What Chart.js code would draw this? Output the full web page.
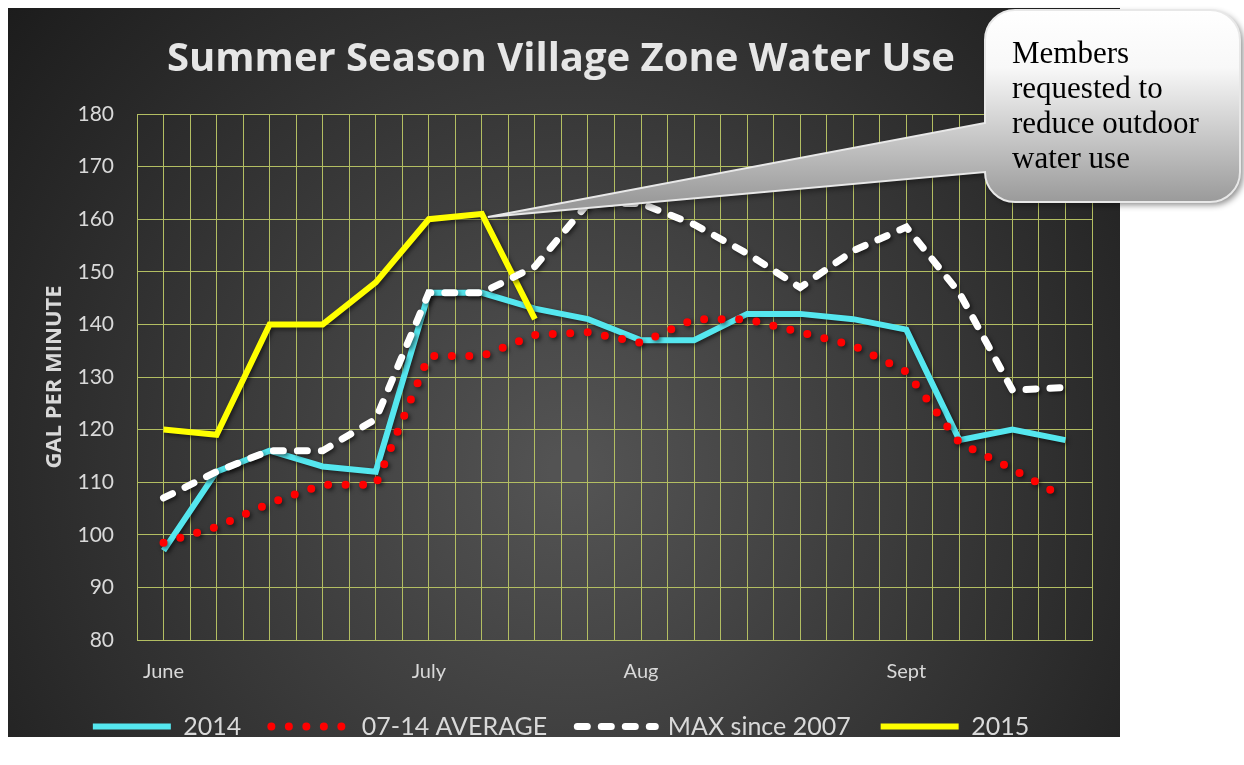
<!DOCTYPE html>
<html>
<head>
<meta charset="utf-8">
<script src="https://cdn.jsdelivr.net/npm/chart.js@4.4.1/dist/chart.umd.min.js"></script>
<style>
  html, body { margin: 0; padding: 0; background: #ffffff; }
</style>
</head>
<body>
<canvas id="waterChart" width="1244" height="765"></canvas>
<script>
// weekly readings, June through September
const weekLabels = ['June', '', '', '', '', 'July', '', '', '', 'Aug', '', '', '', '', 'Sept', '', '', ''];
const use2014 = [97, 112, 116, 113, 112, 146, 146, 143, 141, 137, 137, 142, 142, 141, 139, 118, 120, 118];
const avg0714 = [98.5, 101.5, 106, 109.5, 109.5, 134, 134, 138, 138.5, 136.5, 141, 141, 138.5, 136, 131, 117.5, 112.5, 107];
const max2007 = [107, 112, 116, 116, 122, 146, 146, 151, 163, 163, 159, 153.5, 147, 154, 158.5, 146, 127.5, 128];
const use2015 = [120, 119, 140, 140, 148, 160, 161, 141];
const yTicks = { min: 80, max: 180, step: 10 };
const calloutLines = ['Members', 'requested to', 'reduce outdoor', 'water use'];

const gridColor = '#b3be62';
const textColor = '#d9d9d9';

function toPoints(arr) {
    return arr.map((v, i) => ({ x: i, y: v }));
}

// dark panel behind the whole chart
const panelPlugin = {
    id: 'panel',
    beforeDraw(chart) {
        const ctx = chart.ctx;
        const g = ctx.createRadialGradient(570, 470, 20, 570, 470, 730);
        g.addColorStop(0, '#535353');
        g.addColorStop(1, '#1c1c1c');
        ctx.save();
        ctx.fillStyle = g;
        ctx.fillRect(8, 8, 1112, 729);
        ctx.restore();
    }
};

// soft shadow under the series lines
const lineShadow = {
    id: 'lineShadow',
    beforeDatasetsDraw(chart) {
        const ctx = chart.ctx;
        ctx.save();
        ctx.shadowColor = 'rgba(0,0,0,0.55)';
        ctx.shadowBlur = 4;
        ctx.shadowOffsetX = 2;
        ctx.shadowOffsetY = 2;
    },
    afterDatasetsDraw(chart) {
        chart.ctx.restore();
    }
};

// speech bubble pointing at the 2015 peak
const calloutPlugin = {
    id: 'callout',
    afterDraw(chart) {
        const { ctx, scales } = chart;
        const tipX = scales.x.getPixelForValue(6) + 6;
        const tipY = scales.y.getPixelForValue(use2015[6]) + 3;
        const L = 985, T = 10, R = 1240, B = 202, r = 30;
        ctx.save();
        ctx.beginPath();
        ctx.moveTo(L + r, T);
        ctx.lineTo(R - r, T);
        ctx.arcTo(R, T, R, T + r, r);
        ctx.lineTo(R, B - r);
        ctx.arcTo(R, B, R - r, B, r);
        ctx.lineTo(L + r, B);
        ctx.arcTo(L, B, L, B - r, r);
        ctx.lineTo(L, 172);
        ctx.lineTo(tipX, tipY);
        ctx.lineTo(L, 123);
        ctx.lineTo(L, T + r);
        ctx.arcTo(L, T, L + r, T, r);
        ctx.closePath();
        const g = ctx.createLinearGradient(0, T, 0, B);
        g.addColorStop(0, '#ffffff');
        g.addColorStop(0.3, '#f8f8f8');
        g.addColorStop(1, '#9a9a9a');
        ctx.shadowColor = 'rgba(0,0,0,0.45)';
        ctx.shadowBlur = 6;
        ctx.shadowOffsetX = 3;
        ctx.shadowOffsetY = 3;
        ctx.fillStyle = g;
        ctx.fill();
        ctx.shadowColor = 'transparent';
        ctx.strokeStyle = '#e8e8e8';
        ctx.lineWidth = 2;
        ctx.stroke();

        ctx.fillStyle = '#000000';
        ctx.font = '31px "Liberation Serif", "Times New Roman", serif';
        ctx.textBaseline = 'alphabetic';
        ctx.textAlign = 'left';
        calloutLines.forEach((t, i) => ctx.fillText(t, 1012, 63 + i * 35));
        ctx.restore();
    }
};

const data = {
    datasets: [
        {
            label: '2014',
            data: toPoints(use2014),
            borderColor: '#55e7ef',
            backgroundColor: '#55e7ef',
            borderWidth: 6,
            pointRadius: 0,
            order: 4
        },
        {
            label: '07-14 AVERAGE',
            data: toPoints(avg0714),
            borderColor: '#ff0000',
            backgroundColor: '#ff0000',
            borderWidth: 8,
            borderDash: [0, 17.5],
            borderCapStyle: 'round',
            pointRadius: 0,
            order: 3
        },
        {
            label: 'MAX since 2007',
            data: toPoints(max2007),
            borderColor: '#ffffff',
            backgroundColor: '#ffffff',
            borderWidth: 7,
            borderDash: [10, 14],
            borderCapStyle: 'round',
            pointRadius: 0,
            order: 1
        },
        {
            label: '2015',
            data: toPoints(use2015),
            borderColor: '#ffff00',
            backgroundColor: '#ffff00',
            borderWidth: 6,
            pointRadius: 0,
            order: 2
        }
    ]
};

// legend samples use the dataset line style, in dataset order
function legendLabels(chart) {
    const items = Chart.defaults.plugins.legend.labels.generateLabels(chart);
    items.forEach(it => {
        const ds = chart.data.datasets[it.datasetIndex];
        it.lineDash = ds.borderDash || [];
        it.lineCap = ds.borderCapStyle || 'butt';
        it.lineWidth = ds.borderWidth;
        it.strokeStyle = ds.borderColor;
    });
    return items.sort((a, b) => a.datasetIndex - b.datasetIndex);
}

const config = {
    type: 'line',
    data: data,
    options: {
        responsive: false,
        animation: false,
        layout: { padding: { left: 30, right: 152, top: 8, bottom: 16 } },
        plugins: {
            title: {
                display: true,
                text: 'Summer Season Village Zone Water Use',
                color: '#e6e6e6',
                font: { family: '"Open Sans"', size: 40, weight: 'bold' },
                padding: { top: 28, bottom: 30 }
            },
            legend: {
                position: 'bottom',
                labels: {
                    usePointStyle: true,
                    pointStyle: 'line',
                    pointStyleWidth: 78,
                    color: textColor,
                    font: { family: 'Lato', size: 25 },
                    padding: 30,
                    generateLabels: legendLabels
                }
            },
            tooltip: { enabled: false }
        },
        scales: {
            x: {
                type: 'linear',
                min: -0.5,
                max: weekLabels.length - 0.5,
                grid: { color: gridColor, drawTicks: false },
                border: { color: gridColor },
                ticks: {
                    stepSize: 0.5,
                    autoSkip: false,
                    maxRotation: 0,
                    padding: 22,
                    color: textColor,
                    font: { family: 'Lato', size: 20, lineHeight: 1 },
                    callback: v => Number.isInteger(v) ? weekLabels[v] : ''
                },
                afterFit: scale => { scale.height = 44; }
            },
            y: {
                min: yTicks.min,
                max: yTicks.max,
                grid: { color: gridColor, drawTicks: false },
                border: { color: gridColor },
                ticks: {
                    stepSize: yTicks.step,
                    padding: 23,
                    color: textColor,
                    font: { family: 'Lato', size: 21 }
                },
                title: {
                    display: true,
                    text: 'GAL PER MINUTE',
                    color: textColor,
                    font: { family: '"Open Sans"', size: 22, weight: 'bold' },
                    padding: { top: 12, bottom: 0 }
                },
                afterFit: scale => { scale.width = 107; }
            }
        }
    },
    plugins: [panelPlugin, lineShadow, calloutPlugin]
};

new Chart(document.getElementById('waterChart'), config);
</script>
</body>
</html>
